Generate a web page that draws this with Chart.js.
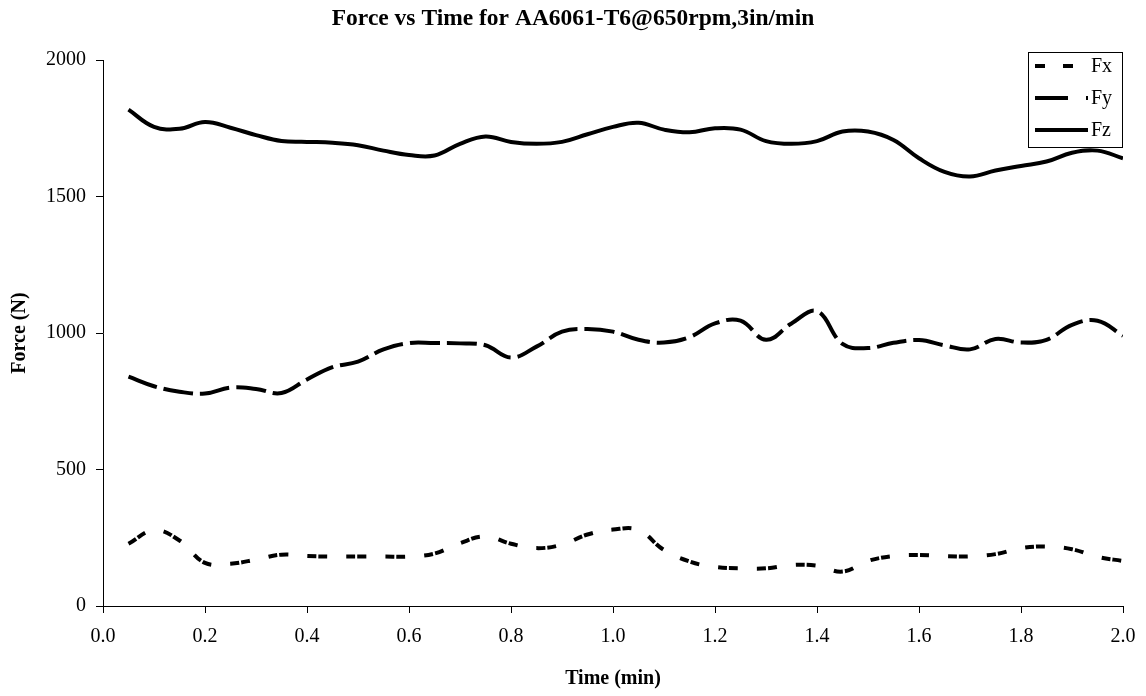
<!DOCTYPE html>
<html>
<head>
<meta charset="utf-8">
<script src="https://cdn.jsdelivr.net/npm/chart.js@4/dist/chart.umd.min.js"></script>
<style>
html,body{margin:0;padding:0;background:#fff;}
#wrap{width:1146px;height:696px;position:relative;}
</style>
</head>
<body>
<div id="wrap"><canvas id="c" width="1146" height="696"></canvas></div>
<script>
const chartTitle = "Force vs Time for AA6061-T6@650rpm,3in/min";
const xTitle = "Time (min)";
const yTitle = "Force (N)";
const seriesNames = ["Fx", "Fy", "Fz"];
const time = [0.05,0.10,0.15,0.20,0.25,0.30,0.35,0.40,0.45,0.50,0.55,0.60,0.65,0.70,0.75,0.80,0.85,0.90,0.95,1.00,
              1.05,1.10,1.15,1.20,1.25,1.30,1.35,1.40,1.45,1.50,1.55,1.60,1.65,1.70,1.75,1.80,1.85,1.90,1.95,2.00];
const fx = [228,278,240,158,155,170,188,183,181,181,181,181,192,230,255,228,212,225,262,280,
            278,205,163,143,138,138,150,148,126,165,183,187,183,182,190,212,218,208,180,165];
const fy = [840,805,785,778,800,795,780,830,875,895,940,963,963,962,955,910,950,1005,1015,1005,
            975,965,985,1035,1045,975,1035,1080,960,945,964,974,955,940,978,965,975,1030,1045,990];
const fz = [1818,1755,1748,1773,1752,1725,1703,1700,1697,1688,1668,1652,1650,1693,1720,1700,1693,1700,1728,1755,
            1770,1745,1735,1750,1745,1703,1693,1703,1738,1738,1707,1640,1590,1573,1595,1612,1628,1660,1668,1640];
const xTicks = [0,0.2,0.4,0.6,0.8,1.0,1.2,1.4,1.6,1.8,2.0];
const yTicks = [0,500,1000,1500,2000];

const FONT = "'Liberation Serif', 'Times New Roman', serif";
const dashes = {Fx: [9,2,9,19], Fy: [30,7], Fz: []};

function pts(ys){ return time.map((t,i)=>({x:t, y:ys[i]})); }

const legendPlugin = {
  id: 'customLegend',
  afterDatasetsDraw(chart){
    const ctx = chart.ctx;
    ctx.save();
    const bx = 1028, by = 52, bw = 94, bh = 95;
    ctx.fillStyle = '#fff';
    ctx.fillRect(bx, by, bw, bh);
    ctx.strokeStyle = '#000';
    ctx.lineWidth = 1;
    ctx.strokeRect(bx+0.5, by+0.5, bw, bh);
    const rows = [66, 98, 130];
    const legDash = [[10,18],[33,18],[]];
    chart.data.datasets.forEach((ds, i) => {
      ctx.beginPath();
      ctx.setLineDash(legDash[i]);
      ctx.lineWidth = 4;
      ctx.strokeStyle = '#000';
      ctx.moveTo(1035, rows[i]);
      ctx.lineTo(1088, rows[i]);
      ctx.stroke();
      ctx.setLineDash([]);
      ctx.fillStyle = '#000';
      ctx.font = "20px " + FONT;
      ctx.textBaseline = 'middle';
      ctx.textAlign = 'left';
      ctx.fillText(ds.label, 1091, rows[i]+1);
    });
    ctx.restore();
  }
};

new Chart(document.getElementById('c'), {
  type: 'line',
  data: {
    datasets: [
      {label: seriesNames[0], data: pts(fx), borderDash: dashes.Fx},
      {label: seriesNames[1], data: pts(fy), borderDash: dashes.Fy},
      {label: seriesNames[2], data: pts(fz), borderDash: dashes.Fz}
    ].map(d => Object.assign(d, {
      borderColor: '#000', borderWidth: 4, pointRadius: 0, tension: 0.4,
      fill: false, borderCapStyle: 'butt', borderJoinStyle: 'round'
    }))
  },
  options: {
    responsive: false,
    animation: false,
    layout: {padding: {left: 0, right: 0, top: 0, bottom: 5}},
    plugins: {
      legend: {display: false},
      tooltip: {enabled: false},
      title: {
        display: true, text: chartTitle, color: '#000',
        font: {family: FONT, size: 23.5, weight: 'bold'},
        padding: {top: 5, bottom: 26.8}
      }
    },
    scales: {
      x: {
        type: 'linear', min: 0, max: 2,
        afterBuildTicks: s => { s.ticks = xTicks.map(v => ({value: v})); },
        afterFit: s => { s.paddingRight = 23; },
        ticks: {color: '#000', font: {family: FONT, size: 20}, padding: 12, maxRotation: 0,
                callback: v => Number(v).toFixed(1)},
        grid: {drawOnChartArea: false, drawTicks: true, tickLength: 7, color: '#000'},
        border: {color: '#000', width: 1},
        title: {display: true, text: xTitle, color: '#000',
                font: {family: FONT, size: 20, weight: 'bold'}, padding: {top: 6, bottom: 0}}
      },
      y: {
        min: 0, max: 2000,
        afterBuildTicks: s => { s.ticks = yTicks.map(v => ({value: v})); },
        afterFit: s => { s.width = 103; },
        ticks: {color: '#000', font: {family: FONT, size: 20}, padding: 10,
                callback: v => String(v)},
        grid: {drawOnChartArea: false, drawTicks: true, tickLength: 7, color: '#000'},
        border: {color: '#000', width: 1},
        title: {display: true, text: yTitle, color: '#000',
                font: {family: FONT, size: 20, weight: 'bold'}, padding: {top: 8, bottom: 8}}
      }
    }
  },
  plugins: [legendPlugin]
});
</script>
</body>
</html>
